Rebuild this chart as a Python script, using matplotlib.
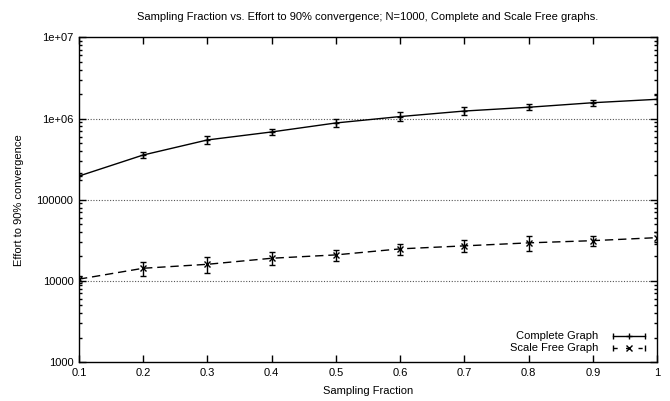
import matplotlib
matplotlib.use("Agg")
import matplotlib.pyplot as plt
from matplotlib.ticker import FixedLocator, LogLocator, NullFormatter

####### DATA #######
fraction = [0.1, 0.2, 0.3, 0.4, 0.5, 0.6, 0.7, 0.8, 0.9, 1.0]

complete_effort = [1.96e5, 3.56e5, 5.46e5, 6.85e5, 8.84e5, 1.06e6, 1.24e6, 1.38e6, 1.57e6, 1.73e6]
complete_err = [1.9e4, 3.2e4, 6.5e4, 5.5e4, 1.05e5, 1.3e5, 1.35e5, 1.15e5, 1.5e5, 2.1e5]

scalefree_effort = [1.05e4, 1.43e4, 1.60e4, 1.90e4, 2.09e4, 2.48e4, 2.70e4, 2.94e4, 3.13e4, 3.41e4]
scalefree_err = [1.1e3, 2.9e3, 3.5e3, 3.5e3, 3.1e3, 4.0e3, 4.5e3, 6.2e3, 4.6e3, 5.8e3]

x_ticks = [0.1, 0.2, 0.3, 0.4, 0.5, 0.6, 0.7, 0.8, 0.9, 1.0]
x_labels = ["0.1", "0.2", "0.3", "0.4", "0.5", "0.6", "0.7", "0.8", "0.9", "1"]
y_ticks = [1e3, 1e4, 1e5, 1e6, 1e7]
y_labels = ["1000", "10000", "100000", "1e+06", "1e+07"]

title = "Sampling Fraction vs. Effort to 90% convergence; N=1000, Complete and Scale Free graphs."

####### STYLE #######
plt.rcParams["font.family"] = ["Liberation Sans", "DejaVu Sans"]
FS = 8.0

fig = plt.figure(figsize=(6.7, 4.01), dpi=100)
ax = fig.add_axes([0.1179, 0.0973, 0.8627, 0.8092])

# data series
ax.errorbar(fraction, complete_effort, yerr=complete_err, color="black", lw=1.0,
            elinewidth=1.0, capsize=2.5, capthick=1.0, marker="+", ms=4.5, mew=1.0)
ax.errorbar(fraction, scalefree_effort, yerr=scalefree_err, color="black", lw=1.0,
            elinewidth=1.0, capsize=2.5, capthick=1.0, marker="x", ms=4.5, mew=1.0,
            dashes=(6, 3.5))

# axes
ax.set_yscale("log")
ax.set_xlim(0.1, 1.0)
ax.set_ylim(1e3, 1e7)
ax.xaxis.set_major_locator(FixedLocator(x_ticks))
ax.set_xticklabels(x_labels)
ax.yaxis.set_major_locator(FixedLocator(y_ticks))
ax.set_yticklabels(y_labels)
ax.yaxis.set_minor_locator(LogLocator(base=10, subs=range(2, 10)))
ax.yaxis.set_minor_formatter(NullFormatter())
ax.tick_params(which="both", direction="in", top=True, right=True, labelsize=FS, width=1.0)
ax.tick_params(which="major", length=5, pad=4)
ax.tick_params(which="minor", length=2.5)
for s in ax.spines.values():
    s.set_linewidth(1.0)

# dotted horizontal grid at the decades inside the plot
for yv in y_ticks[1:-1]:
    ax.axhline(yv, color="#555555", lw=0.8, ls=(0, (1, 1.5)), zorder=0)

ax.set_xlabel("Sampling Fraction", fontsize=FS, labelpad=6)
ax.set_ylabel("Effort to 90% convergence", fontsize=FS, labelpad=9)
fig.text(0.549, 0.957, title, fontsize=FS, ha="center", va="center")

# gnuplot style key, bottom right
key = [("Complete Graph", "+", "-", 0.080), ("Scale Free Graph", "x", "--", 0.043)]
for label, mk, style, yk in key:
    ax.text(0.898, yk, label, transform=ax.transAxes, fontsize=FS, ha="right", va="center")
    ax.plot([0.924, 0.979], [yk, yk], transform=ax.transAxes, color="black", lw=1.0,
            ls=style, dashes=(3, 6) if style == "--" else (None, None), clip_on=False)
    ax.plot([0.924, 0.979], [yk, yk], transform=ax.transAxes, color="black", ls="none",
            marker="|", ms=5, mew=1.0, clip_on=False)
    ax.plot([0.9515], [yk], transform=ax.transAxes, color="black", ls="none",
            marker=mk, ms=4.5, mew=1.0, clip_on=False)

fig.savefig("out.png", dpi=100)
